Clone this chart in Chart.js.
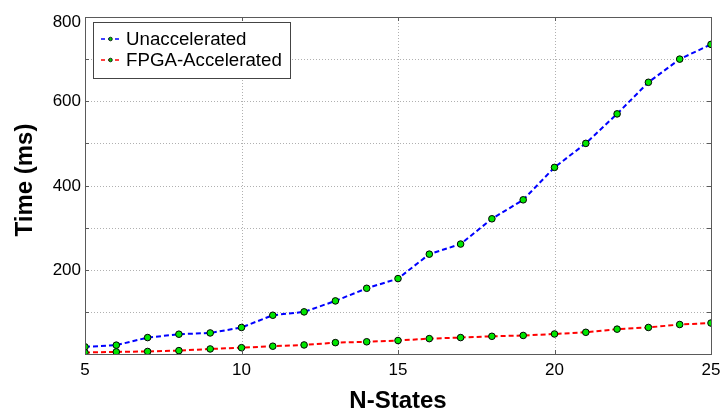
<!DOCTYPE html>
<html>
<head>
<meta charset="utf-8">
<script src="https://cdn.jsdelivr.net/npm/chart.js@4.4.1/dist/chart.umd.min.js"></script>
<style>
  html, body { margin: 0; padding: 0; background: #ffffff; }
  #wrap { width: 723px; height: 412px; position: relative; }
</style>
</head>
<body>
<div id="wrap"><canvas id="c" width="723" height="412"></canvas></div>
<script>
// Number of states in the model
const nStates = [5, 6, 7, 8, 9, 10, 11, 12, 13, 14, 15, 16, 17, 18, 19, 20, 21, 22, 23, 24, 25];
// Run time in milliseconds, software only
const unaccelerated = [17, 21, 39, 47, 50, 63, 92, 100, 126, 156, 179, 237, 261, 321, 366, 443, 500, 570, 645, 700, 735];
// Run time in milliseconds, with the FPGA accelerator
const fpgaAccelerated = [3.5, 5, 6, 8, 12, 15, 18.5, 21.5, 27, 29, 32, 36.5, 39, 42, 44, 47.5, 51.5, 59, 63, 70, 73.5];
const xTicks = [5, 10, 15, 20, 25];
const yLabelled = [200, 400, 600, 800];
const xTitle = 'N-States';
const yTitle = 'Time (ms)';

const FONT = "'Liberation Sans', Arial, sans-serif";
const AXIS_COLOR = '#5a5a5a';

function toPoints(xs, ys) { return xs.map((x, i) => ({ x: x, y: ys[i] })); }

// Dotted grid behind the data
const gridPlugin = {
  id: 'dottedGrid',
  beforeDatasetsDraw(chart) {
    const { ctx, chartArea: a, scales } = chart;
    ctx.save();
    ctx.strokeStyle = '#b0b0b0';
    ctx.lineWidth = 1;
    ctx.setLineDash([1, 2]);
    scales.y.ticks.forEach(t => {
      const py = Math.round(scales.y.getPixelForValue(t.value)) + 0.5;
      ctx.beginPath(); ctx.moveTo(a.left, py); ctx.lineTo(a.right, py); ctx.stroke();
    });
    scales.x.ticks.forEach(t => {
      const px = Math.round(scales.x.getPixelForValue(t.value)) + 0.5;
      ctx.beginPath(); ctx.moveTo(px, a.top); ctx.lineTo(px, a.bottom); ctx.stroke();
    });
    ctx.restore();
  }
};

// Frame around the plot area, inward tick marks, y labels, axis titles and a boxed legend
const framePlugin = {
  id: 'frame',
  afterDraw(chart) {
    const { ctx, chartArea: a, scales } = chart;
    ctx.save();
    ctx.strokeStyle = AXIS_COLOR;
    ctx.lineWidth = 1;
    ctx.setLineDash([]);
    ctx.strokeRect(Math.round(a.left) + 0.5, Math.round(a.top) + 0.5,
                   Math.round(a.right - a.left), Math.round(a.bottom - a.top));
    const tl = 4;
    scales.y.ticks.forEach(t => {
      const py = Math.round(scales.y.getPixelForValue(t.value)) + 0.5;
      ctx.beginPath();
      ctx.moveTo(a.left, py); ctx.lineTo(a.left + tl, py);
      ctx.moveTo(a.right, py); ctx.lineTo(a.right - tl, py);
      ctx.stroke();
    });
    scales.x.ticks.forEach(t => {
      const px = Math.round(scales.x.getPixelForValue(t.value)) + 0.5;
      ctx.beginPath();
      ctx.moveTo(px, a.bottom); ctx.lineTo(px, a.bottom - tl);
      ctx.moveTo(px, a.top); ctx.lineTo(px, a.top + tl);
      ctx.stroke();
    });

    // y tick labels; the topmost one is kept inside the canvas
    ctx.fillStyle = '#000000';
    ctx.font = '17px ' + FONT;
    ctx.textAlign = 'right';
    ctx.textBaseline = 'middle';
    yLabelled.forEach(v => {
      let py = scales.y.getPixelForValue(v);
      if (py < a.top + 4) py = a.top + 4.5;
      ctx.fillText(String(v), a.left - 4, py + 0.5);
    });

    // axis titles
    ctx.font = 'bold 24px ' + FONT;
    ctx.textAlign = 'center';
    ctx.fillText(xTitle, (a.left + a.right) / 2, 401);
    ctx.save();
    ctx.translate(25, 180);
    ctx.rotate(-Math.PI / 2);
    ctx.fillText(yTitle, 0, 0);
    ctx.restore();

    // legend box
    const bx = 93.5, by = 22.5, bw = 197, bh = 56;
    ctx.fillStyle = '#ffffff';
    ctx.fillRect(bx, by, bw, bh);
    ctx.strokeStyle = '#444444';
    ctx.lineWidth = 1;
    ctx.strokeRect(bx, by, bw, bh);
    const rows = [39, 60];
    chart.data.datasets.forEach((ds, i) => {
      const y = rows[i];
      ctx.strokeStyle = ds.borderColor;
      ctx.lineWidth = 1.5;
      ctx.setLineDash([4, 3]);
      ctx.beginPath();
      ctx.moveTo(101, y); ctx.lineTo(120, y);
      ctx.stroke();
      ctx.setLineDash([]);
      ctx.beginPath();
      ctx.arc(110.5, y, 1.8, 0, Math.PI * 2);
      ctx.fillStyle = '#00cc00';
      ctx.fill();
      ctx.strokeStyle = '#000';
      ctx.lineWidth = 0.8;
      ctx.stroke();
      ctx.fillStyle = '#000000';
      ctx.font = '18.7px ' + FONT;
      ctx.textBaseline = 'middle';
      ctx.textAlign = 'left';
      ctx.fillText(ds.label, 126, y + 1);
    });
    ctx.restore();
  }
};

new Chart(document.getElementById('c'), {
  type: 'line',
  data: {
    datasets: [
      {
        label: 'Unaccelerated',
        data: toPoints(nStates, unaccelerated),
        borderColor: '#0000ff',
        borderWidth: 2,
        borderDash: [5, 3],
        pointRadius: 3.3,
        pointBackgroundColor: '#00e600',
        pointBorderColor: '#000000',
        pointBorderWidth: 1,
        tension: 0
      },
      {
        label: 'FPGA-Accelerated',
        data: toPoints(nStates, fpgaAccelerated),
        borderColor: '#ff0000',
        borderWidth: 2,
        borderDash: [5, 3],
        pointRadius: 3.3,
        pointBackgroundColor: '#00e600',
        pointBorderColor: '#000000',
        pointBorderWidth: 1,
        tension: 0
      }
    ]
  },
  options: {
    responsive: false,
    animation: false,
    layout: { padding: { top: 17, right: 12, left: 0, bottom: 0 } },
    plugins: { legend: { display: false }, tooltip: { enabled: false } },
    scales: {
      x: {
        type: 'linear',
        min: 5, max: 25,
        afterBuildTicks(scale) { scale.ticks = xTicks.map(v => ({ value: v })); },
        afterFit(scale) {
          scale.height = 58;
          scale.paddingLeft = 0;
          scale.paddingRight = 0;
        },
        grid: { display: false, drawTicks: false },
        border: { display: false },
        ticks: { color: '#000', font: { family: FONT, size: 17 }, padding: 6, maxRotation: 0 }
      },
      y: {
        min: 0, max: 800,
        afterBuildTicks(scale) {
          const t = [];
          for (let v = 0; v <= 800; v += 100) t.push({ value: v });
          scale.ticks = t;
        },
        afterFit(scale) {
          scale.width = 85;
          scale.paddingTop = 0;
          scale.paddingBottom = 0;
        },
        grid: { display: false, drawTicks: false },
        border: { display: false },
        ticks: { display: false }
      }
    }
  },
  plugins: [gridPlugin, framePlugin]
});
</script>
</body>
</html>
